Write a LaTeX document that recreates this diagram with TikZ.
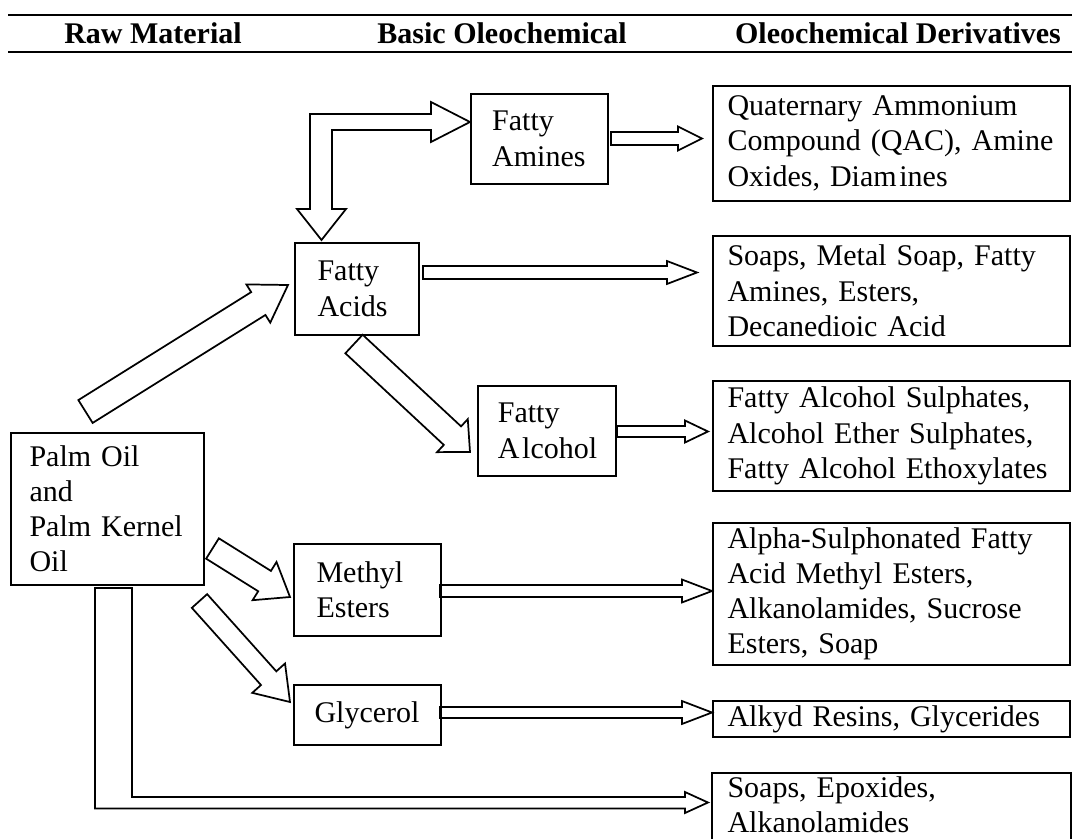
\documentclass[tikz,border=0pt]{standalone}
\usepackage{fontspec}
\setmainfont{Liberation Serif}
\usetikzlibrary{calc}
\hfuzz=20pt \hbadness=10000
\newcommand\blockarrow[5]{% start, end, shaft half width, head half width, head length
  \path (#2) coordinate (ba-e) ($(#2)!#5!(#1)$) coordinate (ba-c);
  \draw[barrow] ($(#1)!#3!90:(#2)$) -- ($(ba-c)!#3!90:(ba-e)$) -- ($(ba-c)!#4!90:(ba-e)$) -- (ba-e)
     -- ($(ba-c)!#4!-90:(ba-e)$) -- ($(ba-c)!#3!-90:(ba-e)$) -- ($(#1)!#3!-90:(#2)$) -- cycle;
}
\tikzset{
  box/.style={draw, line width=1.3pt, anchor=north west, align=left, inner ysep=0pt,
              font=\fontsize{22.5}{26.4}\selectfont},
  dbox/.style={box, inner xsep=11pt, minimum width=267.75pt, text width=245.75pt},
  barrow/.style={draw, line width=1.3pt, fill=white, line join=miter},
  headtxt/.style={font=\bfseries\fontsize{22.5}{26.4}\selectfont, anchor=base, inner sep=0pt},
  hrule/.style={line width=1.5pt},
  border/.style={line width=1.3pt}
}
\begin{document}
\begin{tikzpicture}[x=0.75pt,y=-0.75pt]
\useasboundingbox (0,0) rectangle (1072,839);
\fill[white] (0,0) rectangle (1072,839);

% header
\draw[hrule] (8,15) -- (1072,15);
\draw[hrule] (8,52) -- (1072,52);
\node[headtxt] (h1) at (153,43) {Raw Material};
\node[headtxt] (h2) at (502,43) {Basic Oleochemical};
\node[headtxt] (h3) at (898,43) {Oleochemical Derivatives};

% connector end points
\coordinate (a1s) at (85.5,411.5);  \coordinate (a1e) at (288,285);
\coordinate (a3s) at (611,138.5);   \coordinate (a3e) at (702,138.5);
\coordinate (a4s) at (423,272.5);   \coordinate (a4e) at (697,272.5);
\coordinate (a5s) at (354,344);     \coordinate (a5e) at (470,452);
\coordinate (a6s) at (617,431.5);   \coordinate (a6e) at (708,431.5);
\coordinate (a7s) at (212.5,548.5); \coordinate (a7e) at (290,597);
\coordinate (a8s) at (199.5,601);   \coordinate (a8e) at (290,702);
\coordinate (a9s) at (440,591);     \coordinate (a9e) at (712,591);
\coordinate (a10s) at (440,712.5);  \coordinate (a10e) at (712,712.5);

% arrows
\blockarrow{a1s}{a1e}{10.1pt}{16.9pt}{26.25pt}
\blockarrow{a3s}{a3e}{4.9pt}{9pt}{18pt}
\blockarrow{a4s}{a4e}{4.9pt}{8.6pt}{22.5pt}
\blockarrow{a5s}{a5e}{9.5pt}{16.9pt}{18pt}
\blockarrow{a6s}{a6e}{4.1pt}{8.25pt}{17.25pt}
\blockarrow{a7s}{a7e}{9pt}{16.9pt}{22.5pt}
\blockarrow{a8s}{a8e}{7.7pt}{16.5pt}{24pt}
\blockarrow{a9s}{a9e}{4.5pt}{8.6pt}{22.5pt}
\blockarrow{a10s}{a10e}{4.1pt}{8.6pt}{22.5pt}

% L-shaped double arrow between Fatty Acids and Fatty Amines
\coordinate (a2a) at (321.5,240);
\coordinate (a2b) at (470,122);
\draw[barrow] (a2a) -- (346,209) -- (332,209) -- (332,130) -- (431,130) -- (431,142) -- (a2b)
   -- (431,102) -- (431,114) -- (310,114) -- (310,209) -- (297,209) -- cycle;

% L-shaped arrow from Palm Oil to bottom box
\coordinate (a11e) at (708,802.5);
\draw[barrow] (95,588) -- (132,588) -- (132,797) -- (685,797) -- (685,792) -- (a11e)
   -- (685,813) -- (685,808.5) -- (95,808.5) -- cycle;

% basic boxes
\node[box, inner xsep=16pt, minimum width=102.75pt, minimum height=67.5pt, text width=70.75pt] (amines) at (470,93) {Fatty\\Amines};
\node[box, inner xsep=17pt, minimum width=93pt, minimum height=69pt, text width=59pt] (acids) at (294,242) {Fatty\\Acids};
\node[box, inner xsep=15pt, minimum width=103.5pt, minimum height=67.5pt, text width=73.5pt] (alcohol) at (477,385) {Fatty\\A\kern2pt lcohol};
\node[box, inner xsep=14pt, minimum width=144.75pt, minimum height=114pt, text width=116.75pt] (palm) at (10,432) {Palm Oil\\and\\Palm Kernel\\Oil};
\node[box, inner xsep=17pt, minimum width=110.25pt, minimum height=69pt, text width=76.25pt] (methyl) at (293,543) {Methyl\\Esters};
\node[box, inner xsep=15.5pt, minimum width=110.25pt, minimum height=45pt, text width=79.25pt] (glycerol) at (293,684) {Glycerol};

% derivative boxes
\node[dbox, minimum height=86.25pt] (qac) at (712,85) {Quaternary Ammonium\\Compound (QAC), Amine\\Oxides, Diam\kern2pt ines};
\node[dbox, minimum height=82.5pt] (soaps) at (712,235) {Soaps, Metal Soap, Fatty\\Amines, Esters,\\Decanedioic Acid};
\node[dbox, minimum height=82.5pt] (fas) at (712,380) {Fatty Alcohol Sulphates,\\Alcohol Ether Sulphates,\\Fatty Alcohol Ethoxylates};
\node[dbox, minimum height=106.5pt] (alpha) at (712,522) {Alpha-Sulphonated Fatty\\Acid Methyl Esters,\\Alkanolamides, Sucrose\\Esters, Soap};
\node[dbox, minimum height=27pt] (alkyd) at (712,700) {Alkyd Resins, Glycerides};
\node[dbox, draw=none, minimum height=46pt] (epox) at (712,773) {Soaps, Epoxides,\\Alkanolamides};
\draw[border] ([yshift=-20pt]epox.south west) -- (epox.north west) -- (epox.north east) -- ([yshift=-20pt]epox.south east);
\end{tikzpicture}
\end{document}
